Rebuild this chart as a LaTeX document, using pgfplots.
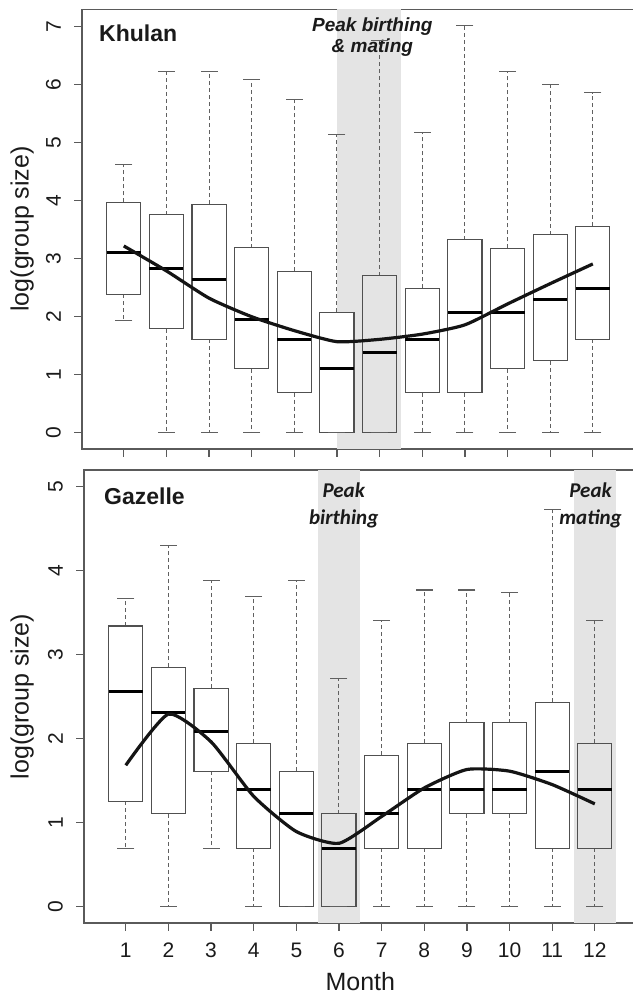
\documentclass[border=0pt]{standalone}
\usepackage{fontspec}
\setmainfont{Liberation Sans}
\newfontfamily\carlito{Carlito}
\usepackage{pgfplots}
\pgfplotsset{compat=1.18}
\usepgfplotslibrary{statistics}
\definecolor{axgray}{HTML}{5A5A5A}
\definecolor{boxgray}{HTML}{505050}
\definecolor{whgray}{HTML}{606060}
\definecolor{shade}{HTML}{E4E4E4}
\definecolor{txt}{HTML}{1A1A1A}

% draw position, lower whisker, Q1, median, Q3, upper whisker, fill
\newcommand{\bx}[7]{\addplot[boxplot prepared={draw position=#1, lower whisker=#2, lower quartile=#3, median=#4, upper quartile=#5, upper whisker=#6}, boxplot/every box/.append style={fill=#7}] coordinates {};}

\pgfplotsset{mystyle/.style={
  scale only axis, width=552.6bp, xmin=0.02, xmax=12.98,
  axis line style={axgray, line width=1.3bp},
  tick pos=left, tick align=outside, major tick length=8bp,
  tick style={axgray, line width=1.2bp},
  xtick={1,...,12},
  /pgf/number format/assume math mode=true,
  tick label style={font=\fontsize{21bp}{25bp}\selectfont, text=txt},
  yticklabel style={rotate=90, anchor=south, inner sep=0pt},
  xticklabel style={anchor=north, inner sep=0pt},
  xticklabel shift=12bp, yticklabel shift=13bp,
  clip=false,
  boxplot/draw direction=y,
  boxplot/box extend=0.8, boxplot/whisker extend=0,
  boxplot/every box/.style={draw=boxgray, line width=1.1bp},
  boxplot/every whisker/.style={draw=whgray, line width=1bp, dash pattern=on 4bp off 3bp},
  boxplot/every median/.style={draw=black, line width=3bp},
}}

\begin{document}
\begin{tikzpicture}
% ---------------- Khulan ----------------
\begin{axis}[mystyle, at={(82bp,547bp)}, anchor=south west, height=439.7bp,
  ymin=-0.28, ymax=7.30, ytick={0,...,7}, xticklabels={}]
\addplot[fill=shade, draw=none] coordinates {(6,-0.28) (7.5,-0.28) (7.5,7.30) (6,7.30)} -- cycle;
\bx{1}{1.94}{2.39}{3.10}{3.97}{4.63}{white}
\bx{2}{0}{1.79}{2.84}{3.76}{6.22}{white}
\bx{3}{0}{1.61}{2.64}{3.94}{6.22}{white}
\bx{4}{0}{1.10}{1.95}{3.19}{6.09}{white}
\bx{5}{0}{0.69}{1.61}{2.78}{5.75}{white}
\bx{6}{0}{0}{1.10}{2.08}{5.14}{white}
\bx{7}{0}{0}{1.39}{2.71}{6.76}{none}
\bx{8}{0}{0.69}{1.61}{2.49}{5.17}{white}
\bx{9}{0}{0.69}{2.08}{3.33}{7.02}{white}
\bx{10}{0}{1.10}{2.08}{3.18}{6.22}{white}
\bx{11}{0}{1.24}{2.30}{3.41}{6.00}{white}
\bx{12}{0}{1.61}{2.48}{3.56}{5.86}{white}
\addplot[only marks, mark=-, mark size=8.5bp, mark options={solid, whgray, line width=1.1bp}] coordinates {
 (1,1.94) (1,4.63) (2,0) (2,6.22) (3,0) (3,6.22) (4,0) (4,6.09) (5,0) (5,5.75) (6,0) (6,5.14)
 (7,0) (7,6.76) (8,0) (8,5.17) (9,0) (9,7.02) (10,0) (10,6.22) (11,0) (11,6.00) (12,0) (12,5.86)};
\addplot[black!92, line width=3.2bp, smooth, tension=0.35] coordinates {
 (1,3.22) (2,2.79) (3,2.32) (4,2.00) (5,1.76) (6,1.57) (7,1.61) (8,1.70) (9,1.86) (10,2.22) (11,2.57) (12,2.91)};
\node[anchor=base west, font=\fontsize{23bp}{27bp}\selectfont\bfseries, text=txt] at (axis cs:0.34,6.74) {Khulan};
\node[anchor=base, font=\fontsize{19bp}{23bp}\selectfont\bfseries\itshape, text=txt] at (axis cs:6.83,6.91) {Peak birthing};
\node[anchor=base, font=\fontsize{19bp}{23bp}\selectfont\bfseries\itshape, text=txt] at (axis cs:6.83,6.55) {\& mating};
\end{axis}
% ---------------- Gazelle ----------------
\begin{axis}[mystyle, at={(84bp,73bp)}, anchor=south west, height=453bp,
  ymin=-0.2, ymax=5.2, ytick={0,...,5}]
\addplot[fill=shade, draw=none] coordinates {(5.5,-0.2) (6.5,-0.2) (6.5,5.2) (5.5,5.2)} -- cycle;
\addplot[fill=shade, draw=none] coordinates {(11.5,-0.2) (12.5,-0.2) (12.5,5.2) (11.5,5.2)} -- cycle;
\bx{1}{0.69}{1.25}{2.56}{3.34}{3.67}{white}
\bx{2}{0}{1.10}{2.31}{2.85}{4.30}{white}
\bx{3}{0.69}{1.61}{2.08}{2.60}{3.88}{white}
\bx{4}{0}{0.69}{1.39}{1.94}{3.69}{white}
\bx{5}{0}{0}{1.10}{1.61}{3.88}{white}
\bx{6}{0}{0}{0.69}{1.10}{2.71}{none}
\bx{7}{0}{0.69}{1.10}{1.80}{3.41}{white}
\bx{8}{0}{0.69}{1.39}{1.94}{3.77}{white}
\bx{9}{0}{1.10}{1.39}{2.19}{3.77}{white}
\bx{10}{0}{1.10}{1.39}{2.19}{3.74}{white}
\bx{11}{0}{0.69}{1.61}{2.43}{4.73}{white}
\bx{12}{0}{0.69}{1.39}{1.94}{3.41}{none}
\addplot[only marks, mark=-, mark size=8.5bp, mark options={solid, whgray, line width=1.1bp}] coordinates {
 (1,0.69) (1,3.67) (2,0) (2,4.30) (3,0.69) (3,3.88) (4,0) (4,3.69) (5,0) (5,3.88) (6,0) (6,2.71)
 (7,0) (7,3.41) (8,0) (8,3.77) (9,0) (9,3.77) (10,0) (10,3.74) (11,0) (11,4.73) (12,0) (12,3.41)};
\addplot[black!92, line width=3.2bp, smooth, tension=0.35] coordinates {
 (1,1.68) (2,2.29) (3,1.96) (4,1.31) (5,0.89) (6,0.75) (7,1.07) (8,1.41) (9,1.63) (10,1.61) (11,1.45) (12,1.22)};
\node[anchor=base west, font=\fontsize{23bp}{27bp}\selectfont\bfseries, text=txt] at (axis cs:0.41,4.79) {Gazelle};
\node[anchor=base, font=\fontsize{21bp}{25bp}\selectfont\carlito\bfseries\itshape, text=txt] at (axis cs:6.11,4.87) {Peak};
\node[anchor=base, font=\fontsize{21bp}{25bp}\selectfont\carlito\bfseries\itshape, text=txt] at (axis cs:6.11,4.55) {birthing};
\node[anchor=base, font=\fontsize{21bp}{25bp}\selectfont\carlito\bfseries\itshape, text=txt] at (axis cs:11.9,4.87) {Peak};
\node[anchor=base, font=\fontsize{21bp}{25bp}\selectfont\carlito\bfseries\itshape, text=txt] at (axis cs:11.9,4.55) {mating};
\end{axis}
\node[rotate=90, anchor=base, font=\fontsize{25bp}{30bp}\selectfont, text=txt] at (28.5bp,767bp) {log(group size)};
\node[rotate=90, anchor=base, font=\fontsize{25bp}{30bp}\selectfont, text=txt] at (28.5bp,299.5bp) {log(group size)};
\node[anchor=base, font=\fontsize{25bp}{30bp}\selectfont, text=txt] at (360.3bp,5.3bp) {Month};
\pgfresetboundingbox
\path[use as bounding box] (0,0) rectangle (633bp,996bp);
\end{tikzpicture}
\end{document}
